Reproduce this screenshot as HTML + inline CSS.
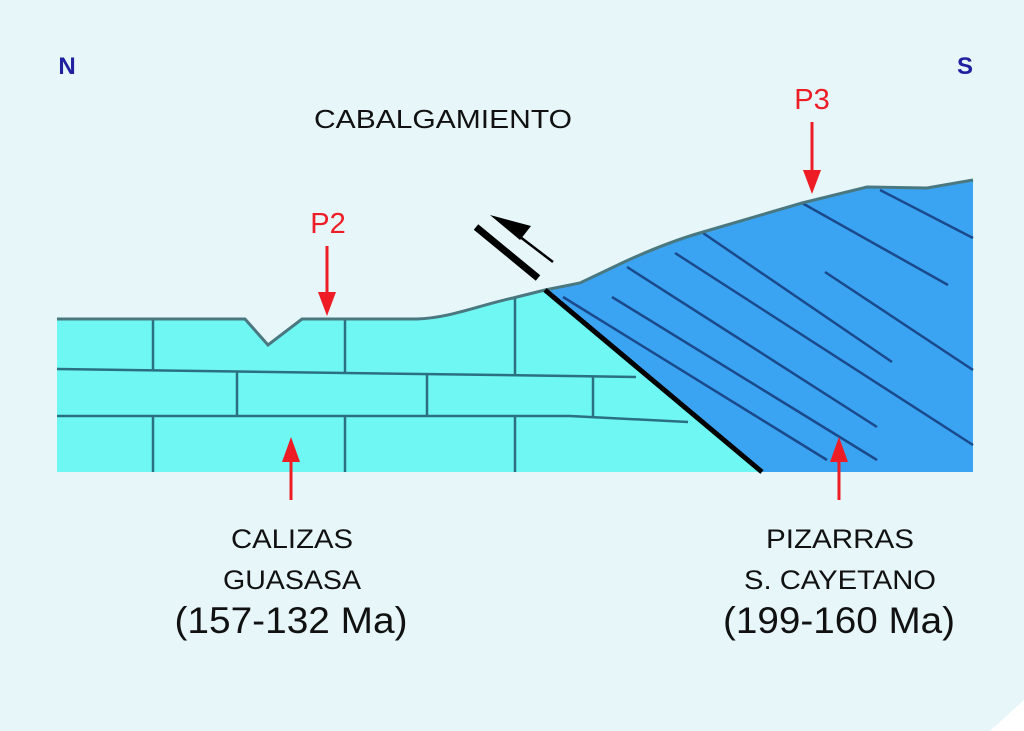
<!DOCTYPE html>
<html><head><meta charset="utf-8"><style>
html,body{margin:0;padding:0;background:#e6f6f9;}
svg{display:block}
text{font-family:"Liberation Sans",sans-serif;}
</style></head><body>
<svg width="1024" height="731" viewBox="0 0 1024 731" xmlns="http://www.w3.org/2000/svg">
<rect width="1024" height="731" fill="#e6f6f9"/>
<polygon points="1024,700 1024,731 990,731" fill="#ffffff"/>
<!-- cyan limestone -->
<path d="M57,319 L245,319 L268,345 L302,319 L417,319 C450,318 480,305 513,298 L545,290 L762,472 L57,472 Z" fill="#6ff7f4"/>
<!-- blue slate -->
<path d="M545,290 L560,287 L580,283 L622,263 C650,250 675,240 703,232 L802,203 L867,187 L927,188 L973,180 L973,472 L762,472 Z" fill="#3ba4f2"/>
<!-- cyan internal lines -->
<g stroke="#2a7080" stroke-width="2.5" fill="none">
<path d="M57,369 L345,373 L570,376 L636,377"/>
<path d="M57,416 L570,416 L688,422"/>
<path d="M153,319 V370 M345,319 V373 M515,297 V376 M237,372 V416 M427,375 V416 M593,376 V417 M153,416 V472 M345,416 V472 M515,416 V472"/>
</g>
<!-- blue strata lines -->
<g stroke="#1a4a8c" stroke-width="2.5" fill="none">
<path d="M880,190 L973,238"/>
<path d="M802,203 L948,285"/>
<path d="M825,272 L973,370"/>
<path d="M703,233 L892,362"/>
<path d="M675,253 L973,445"/>
<path d="M627,267 L877,427"/>
<path d="M612,297 L877,460"/>
<path d="M563,297 L827,460"/>
</g>
<!-- surface -->
<path d="M57,319 L245,319 L268,345 L302,319 L417,319 C450,318 480,305 513,298 L545,290 L560,287 L580,283 L622,263 C650,250 675,240 703,232 L802,203 L867,187 L927,188 L973,180" fill="none" stroke="#4a7880" stroke-width="3"/>
<!-- fault -->
<line x1="545" y1="290" x2="762" y2="472" stroke="#000" stroke-width="5"/>
<!-- shear symbol -->
<line x1="476" y1="227" x2="538" y2="278" stroke="#000" stroke-width="7"/>
<line x1="515" y1="233" x2="553" y2="262" stroke="#000" stroke-width="2.5"/>
<polygon points="490,215 531,226 520,240" fill="#000"/>
<!-- red arrows -->
<g fill="#ee1c24" stroke="#ee1c24">
<line x1="327" y1="246" x2="327" y2="300" stroke-width="3"/>
<polygon points="318,292 336,292 327,316" stroke="none"/>
<line x1="812" y1="122" x2="812" y2="178" stroke-width="3"/>
<polygon points="803,170 821,170 812,194" stroke="none"/>
<line x1="291" y1="457" x2="291" y2="500" stroke-width="3"/>
<polygon points="282,462 300,462 291,437" stroke="none"/>
<line x1="839" y1="457" x2="839" y2="500" stroke-width="3"/>
<polygon points="830,462 848,462 839,437" stroke="none"/>
</g>
<!-- labels -->
<text x="67" y="74" font-size="24" font-weight="bold" fill="#2020a0" text-anchor="middle">N</text>
<text x="965" y="74" font-size="24" font-weight="bold" fill="#2020a0" text-anchor="middle">S</text>
<text x="443" y="128" font-size="26" fill="#111" text-anchor="middle" textLength="258" lengthAdjust="spacingAndGlyphs">CABALGAMIENTO</text>
<text x="328" y="233" font-size="29" fill="#ee1c24" text-anchor="middle">P2</text>
<text x="812" y="109" font-size="29" fill="#ee1c24" text-anchor="middle">P3</text>
<text x="292" y="548" font-size="27" fill="#111" text-anchor="middle" textLength="122" lengthAdjust="spacingAndGlyphs">CALIZAS</text>
<text x="292" y="589" font-size="27" fill="#111" text-anchor="middle" textLength="138" lengthAdjust="spacingAndGlyphs">GUASASA</text>
<text x="291" y="633" font-size="37" fill="#111" text-anchor="middle" textLength="233" lengthAdjust="spacingAndGlyphs">(157-132 Ma)</text>
<text x="840" y="548" font-size="27" fill="#111" text-anchor="middle" textLength="148" lengthAdjust="spacingAndGlyphs">PIZARRAS</text>
<text x="840" y="589" font-size="27" fill="#111" text-anchor="middle" textLength="192" lengthAdjust="spacingAndGlyphs">S. CAYETANO</text>
<text x="839" y="633" font-size="37" fill="#111" text-anchor="middle" textLength="232" lengthAdjust="spacingAndGlyphs">(199-160 Ma)</text>
</svg>
</body></html>
